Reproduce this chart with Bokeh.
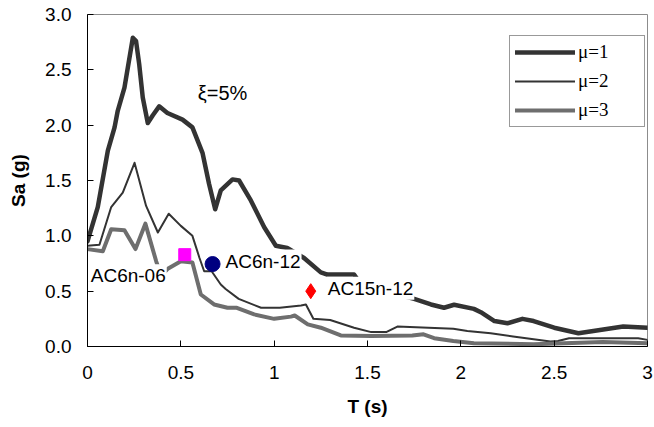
from bokeh.plotting import figure
from bokeh.models import Label, Legend, LegendItem, FixedTicker, Range1d
from bokeh.embed import file_html
from bokeh.resources import INLINE

# Spectral acceleration Sa (g) against period T (s), 5% damping,
# for ductility factors mu = 1, 2, 3
t_mu1 = [0.0, 0.055, 0.109, 0.145, 0.162, 0.198, 0.243, 0.26, 0.277, 0.296,
         0.323, 0.35, 0.384, 0.428, 0.509, 0.562, 0.616, 0.651, 0.684, 0.714,
         0.777, 0.812, 0.875, 0.946, 1.009, 1.07, 1.16, 1.25, 1.285, 1.428,
         1.47, 1.75, 1.84, 1.91, 1.964, 2.07, 2.107, 2.18, 2.25, 2.33, 2.39,
         2.5, 2.63, 2.71, 2.87, 3.0]
sa_mu1 = [0.95, 1.26, 1.77, 1.98, 2.13, 2.34, 2.79, 2.76, 2.55, 2.25,
          2.02, 2.09, 2.17, 2.11, 2.05, 1.98, 1.75, 1.47, 1.24, 1.41,
          1.51, 1.50, 1.32, 1.08, 0.91, 0.89, 0.80, 0.67, 0.65, 0.65,
          0.55, 0.43, 0.38, 0.35, 0.377, 0.34, 0.31, 0.23, 0.21, 0.25, 0.23,
          0.17, 0.12, 0.14, 0.18, 0.17]

t_mu2 = [0.0, 0.064, 0.127, 0.189, 0.252, 0.314, 0.377, 0.435, 0.5, 0.562,
         0.60, 0.625, 0.665, 0.714, 0.74, 0.81, 0.93, 1.03, 1.144, 1.17,
         1.21, 1.30, 1.428, 1.52, 1.60, 1.66, 1.96, 2.035, 2.16, 2.28,
         2.48, 2.52, 2.58, 2.95, 3.0]
sa_mu2 = [0.91, 0.92, 1.26, 1.39, 1.66, 1.27, 1.03, 1.20, 1.09, 1.00,
          0.80, 0.68, 0.68, 0.56, 0.52, 0.43, 0.35, 0.35, 0.37, 0.38,
          0.25, 0.24, 0.17, 0.13, 0.13, 0.18, 0.16, 0.14, 0.12, 0.09,
          0.045, 0.05, 0.075, 0.075, 0.06]

t_mu3 = [0.0, 0.082, 0.127, 0.198, 0.257, 0.31, 0.368, 0.395, 0.428, 0.5,
         0.562, 0.607, 0.678, 0.75, 0.80, 0.893, 1.0, 1.09, 1.11, 1.18,
         1.25, 1.357, 1.52, 1.74, 1.80, 1.857, 1.96, 2.07, 2.39, 2.76, 3.0]
sa_mu3 = [0.88, 0.86, 1.06, 1.05, 0.88, 1.11, 0.77, 0.64, 0.70, 0.77,
          0.76, 0.47, 0.38, 0.35, 0.35, 0.29, 0.25, 0.27, 0.28, 0.20,
          0.17, 0.10, 0.095, 0.10, 0.11, 0.075, 0.05, 0.03, 0.02, 0.04, 0.03]

series_labels = ["\u03bc=1", "\u03bc=2", "\u03bc=3"]

# Individual records
record_names = ["AC6n-06", "AC6n-12", "AC15n-12"]
record_t = [0.521, 0.67, 1.196]
record_sa = [0.83, 0.745, 0.50]
record_colors = ["#ff00ff", "#000080", "#ff0000"]
record_markers = ["square", "circle", "diamond"]
record_sizes = [12, 15, 15]

x_ticks = [0, 0.5, 1, 1.5, 2, 2.5, 3]
x_tick_labels = ["0", "0.5", "1", "1.5", "2", "2.5", "3"]
y_ticks = [0, 0.5, 1, 1.5, 2, 2.5, 3]
y_tick_labels = ["0.0", "0.5", "1.0", "1.5", "2.0", "2.5", "3.0"]

FONT = "Liberation Sans"

p = figure(width=654, height=427, output_backend="svg", toolbar_location=None,
           x_range=Range1d(0, 3), y_range=Range1d(0, 3),
           min_border_left=87, min_border_right=7, min_border_top=14,
           min_border_bottom=81, background_fill_color="white",
           border_fill_color="white")
p.grid.visible = False
p.outline_line_color = "#8c8c8c"
p.outline_line_width = 1

for ax, ticks, labels in ((p.xaxis[0], x_ticks, x_tick_labels),
                          (p.yaxis[0], y_ticks, y_tick_labels)):
    ax.ticker = FixedTicker(ticks=ticks)
    ax.major_label_overrides = dict(zip(ticks, labels))
    ax.major_tick_in = 6
    ax.major_tick_out = 0
    ax.minor_tick_line_color = None
    ax.axis_line_color = "black"
    ax.major_tick_line_color = "black"
    ax.major_label_text_font = FONT
    ax.major_label_text_font_size = "19px"
    ax.major_label_text_color = "black"
    ax.axis_label_text_font = FONT
    ax.axis_label_text_font_size = "19px"
    ax.axis_label_text_font_style = "bold"
    ax.axis_label_text_color = "black"

p.xaxis.axis_label = "T (s)"
p.yaxis.axis_label = "Sa (g)"
p.xaxis.major_label_standoff = 19
p.yaxis.major_label_standoff = 16
p.xaxis.axis_label_standoff = 14
p.yaxis.axis_label_standoff = 13

r1 = p.line(t_mu1, sa_mu1, line_color="#333333", line_width=4.5,
            line_join="round", line_cap="round")
r2 = p.line(t_mu2, sa_mu2, line_color="#333333", line_width=2,
            line_join="round", line_cap="round")
r3 = p.line(t_mu3, sa_mu3, line_color="#6e6e6e", line_width=4,
            line_join="round", line_cap="round")

for t, sa, c, m, s in zip(record_t, record_sa, record_colors,
                          record_markers, record_sizes):
    p.scatter([t], [sa], marker=m, size=s, fill_color=c, line_color=c)

# Record names, each beside its marker; white box hides the curves behind
label_offsets = [(-18, -21, "right"), (12, 3, "left"), (16, 3, "left")]
for name, t, sa, (dx, dy, align) in zip(record_names, record_t, record_sa,
                                        label_offsets):
    p.add_layout(Label(x=t, y=sa, x_offset=dx, y_offset=dy, text=name,
                       text_font=FONT, text_font_size="19px",
                       text_color="black", text_align=align,
                       text_baseline="middle",
                       background_fill_color="white", padding=1))

p.add_layout(Label(x=0.591, y=2.293, text="\u03be=5%", text_font=FONT,
                   text_font_size="20px", text_color="black",
                   text_align="left", text_baseline="middle"))

legend = Legend(
    items=[LegendItem(label=lab, renderers=[r])
           for lab, r in zip(series_labels, (r1, r2, r3))],
    location=(422, 219), orientation="vertical",
    glyph_width=60, glyph_height=20, label_height=20, label_width=61,
    label_standoff=3, spacing=7, padding=5,
    label_text_font="Liberation Serif", label_text_font_size="19px",
    label_text_color="black",
    border_line_color="#333333", border_line_width=1,
    background_fill_color="white", background_fill_alpha=1.0)
p.add_layout(legend, "center")

open("out.html", "w").write(file_html(p, INLINE))
